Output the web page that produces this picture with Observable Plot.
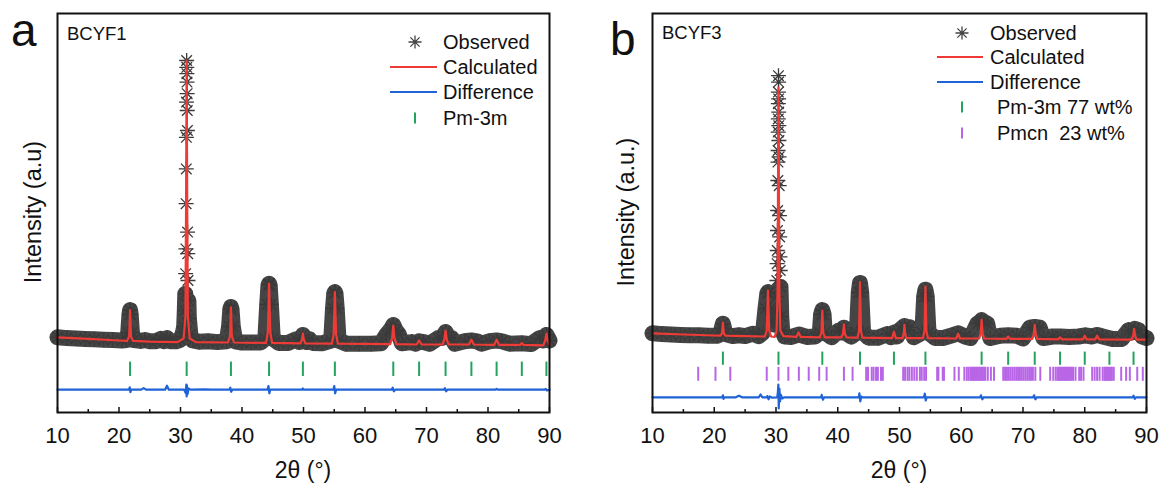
<!DOCTYPE html>
<html><head><meta charset="utf-8">
<script src="https://cdn.jsdelivr.net/npm/d3@7"></script>
<script src="https://cdn.jsdelivr.net/npm/@observablehq/plot@0.6"></script>
<style>
html,body{margin:0;padding:0;background:#fff;}
#wrap{display:flex;width:1169px;height:491px;overflow:hidden;}
</style></head><body><div id="wrap"></div>
<script>
// ---------------- DATA (2θ in degrees, intensity in a.u.) ----------------
const xTicksMajor = [10, 20, 30, 40, 50, 60, 70, 80, 90];
const xTicksMinor = [15, 25, 35, 45, 55, 65, 75, 85];

// Panel a : BCYF1
const obsA = [
  [10,188],[11.5,186],[13,185],[14.5,184],[16,183],[17.5,182],[19,181],[20.5,180],
  [21.2,181],[21.5,200],[21.7,245],[21.8,256],[21.9,245],[22.1,200],[22.4,181],
  [23.5,179],[24.2,181],[25,178],[26,178],[26.8,184],[27.3,178],[27.8,186],[28.3,178],[29.3,178],
  [30.0,182],[30.4,200],
  [30.6,215],[30.7,255],[30.78,297],[30.84,347],[30.88,409],[30.91,522],[30.94,609],[30.96,688],[30.98,776],[31.0,880],
  [31.02,863],[31.04,847],[31.06,826],[31.08,797],[31.1,755],[31.12,705],[31.15,451],[31.18,397],[31.22,330],[31.28,280],[31.36,235],
  [31.6,195],[32,180],[33,177],[34.5,178],[36,176],
  [37.5,178],[37.9,215],[38.1,258],[38.2,264],[38.3,258],[38.5,215],[38.9,178],
  [40,175],[41.5,175],[43,175],[43.8,185],[44.1,270],[44.3,318],[44.4,322],[44.5,318],[44.7,270],[45.0,185],
  [46,174],[47.5,174],[48.8,183],[49.3,176],[49.9,194],[50.5,176],[50.9,184],[51.5,174],[53,173],
  [54.5,180],[54.8,260],[55.0,298],[55.1,301],[55.2,298],[55.4,260],[55.7,180],
  [57,172],[59,172],[61,172],[62.6,173],[63.5,195],[64.2,208],[64.6,219],[65.0,205],[65.5,195],[66,173],
  [67.6,176],[68.2,172],[68.8,178],[69.5,176],[70.5,172],
  [71.9,186],[72.5,186],[73.1,201],[73.6,188],[74.1,186],[74.6,172],
  [76.2,178],[77.3,180],[78.2,178],[79,172],[80.2,178],[81.4,180],[82.3,178],[83.5,172],[85.5,173],[87,171],
  [88.4,186],[88.9,180],[89.5,194],[90,180]
];
const calcA = [
  [10,188],[15,184],[20,180],[21.3,179],[21.65,190],[21.8,256],[21.95,190],[22.3,179],
  [25,177],[29.5,176],[30.5,185],[30.8,240],[30.9,500],[31.0,880],[31.1,500],[31.2,240],[31.5,185],[32.5,176],
  [37.7,175],[38.05,190],[38.2,263],[38.35,190],[38.7,175],
  [43.9,174],[44.2,200],[44.4,322],[44.6,200],[44.9,174],
  [49.5,173],[49.75,182],[49.9,197],[50.05,182],[50.3,173],
  [54.6,172],[54.9,195],[55.1,301],[55.3,195],[55.6,172],
  [64.1,171],[64.4,185],[64.6,217],[64.8,185],[65.1,171],
  [68.4,170],[68.8,180],[69.2,170],
  [72.6,170],[72.9,182],[73.1,205],[73.3,182],[73.6,170],
  [76.9,170],[77.3,182],[77.7,170],
  [81.0,169],[81.4,182],[81.8,169],
  [85.2,169],[85.5,174],[85.8,169],
  [89.0,168],[89.3,180],[89.5,197],[89.7,180],[90,170]
];
const diffA = [
  [10,57],[21.6,57],[21.75,63],[21.85,51],[22.0,57],[23.6,57],[24.0,61],[24.4,57],
  [27.5,57],[27.8,67],[28.1,57],[30.6,57],[30.85,49],[30.95,70],[31.0,40],[31.05,68],[31.15,46],[31.3,60],[31.6,57],
  [34,58],[35,57],[37.95,57],[38.1,62],[38.25,52],[38.4,57],[44.15,57],[44.3,66],[44.45,48],[44.6,57],
  [49.75,57],[49.9,60],[50.0,57],[54.85,57],[55.0,66],[55.15,48],[55.3,57],[64.35,57],[64.5,62],[64.7,53],[64.9,57],
  [72.85,57],[73.0,61],[73.2,53],[73.4,57],[81.25,57],[81.4,59],[81.6,57],[89.25,57],[89.4,59],[89.6,55],[90,57]
];
const pm3mA = [21.8, 31.0, 38.2, 44.4, 49.9, 55.1, 64.6, 68.8, 73.1, 77.3, 81.4, 85.5, 89.5];
const pm3mRowA = [90, 126];

// Panel b : BCYF3
const obsB = [
  [10,198],[11.5,196],[13,195],[14.5,194],[16,193],[17.5,193],[19,192],[20.5,192],
  [21.0,196],[21.2,210],[21.4,222],[21.6,210],[21.8,196],
  [23,191],[24,193],[25,191],[26.3,197],[27.2,191],[27.9,200],[28.3,260],[28.6,298],[28.7,301],[28.8,298],[29.1,260],
  [29.4,230],[29.7,220],[29.95,250],
  [30.1,289],[30.14,330],[30.18,372],[30.21,405],[30.24,455],[30.27,505],[30.3,580],[30.32,626],[30.34,655],[30.36,701],[30.37,734],[30.38,772],[30.39,801],[30.4,842],
  [30.42,826],[30.43,784],[30.44,751],[30.45,717],[30.47,680],[30.49,639],[30.52,567],[30.56,492],[30.6,439],[30.64,389],[30.68,355],[30.73,314],
  [30.85,240],[31.0,205],[31.4,190],[32.5,189],[33.7,195],[35,189],[36.3,190],
  [37.1,200],[37.3,245],[37.5,256],[37.7,245],[37.9,200],
  [39,188],[40.2,205],[40.6,200],[41.0,212],[41.4,198],[42.2,190],
  [43.1,200],[43.4,300],[43.6,324],[43.8,300],[44.1,200],
  [45,187],[46.5,187],[48.0,196],[48.6,188],[49.1,200],[49.6,190],[50.2,208],[50.8,216],[51.3,205],[51.7,213],[52.3,188],
  [53.7,200],[54.0,290],[54.2,307],[54.4,290],[54.7,200],
  [55.8,186],[57,186],[58.5,193],[59.5,198],[60.6,190],[61.5,186],
  [62.6,222],[63.0,226],[63.3,231],[63.7,226],[64.2,222],[64.7,186],
  [66.3,192],[67.6,193],[69,192],[70,185],
  [71.1,212],[71.9,214],[72.7,212],[73.3,186],
  [74.8,190],[76.1,190],[77.5,189],[79,190],[80.1,193],[81.2,190],[82,194],[82.9,190],[84.5,184],[86,184],
  [87.1,206],[87.6,200],[88.1,209],[88.7,206],[89.3,190],[90,186]
];
const calcB = [
  [10,198],[15,195],[20,192.5],[21.0,192],[21.25,198],[21.4,225],[21.55,198],[21.8,192],
  [25,191],[28.2,190],[28.5,205],[28.7,305],[28.9,205],[29.2,190],[29.8,189],[30.1,205],[30.25,300],[30.4,812],[30.55,300],[30.7,205],[31.2,191],
  [33.3,189],[33.65,200],[34.0,189],
  [37.1,188],[37.35,200],[37.5,255],[37.65,200],[37.9,188],
  [40.6,188],[40.85,197],[41.0,220],[41.15,197],[41.4,188],
  [43.2,187],[43.45,205],[43.6,326],[43.75,205],[44.0,187],
  [48.8,186],[49.1,202],[49.4,186],
  [50.5,186],[50.7,198],[50.8,219],[50.9,198],[51.1,186],
  [53.8,186],[54.05,205],[54.2,315],[54.35,205],[54.6,186],
  [59.2,185],[59.5,197],[59.8,185],
  [62.9,185],[63.15,198],[63.3,232],[63.45,198],[63.7,185],
  [67.3,184],[67.6,190],[67.9,184],
  [71.5,184],[71.75,196],[71.9,219],[72.05,196],[72.3,184],
  [75.7,183],[76.0,188],[76.3,183],
  [79.7,183],[80.0,192],[80.3,183],
  [81.7,183],[82.0,192],[82.3,183],
  [87.6,182],[87.85,192],[88.0,209],[88.15,192],[88.4,182],
  [90,182]
];
const diffB = [
  [10,38],[21.3,38],[21.4,43],[21.5,34],[21.6,38],[23.5,38],[24,42],[24.5,38],[27.2,38],[27.5,45],[27.8,38],
  [28.5,38],[28.6,41],[28.8,33],[29.0,40],[29.4,37],[30.2,38],[30.3,50],[30.38,70],[30.45,10],[30.55,60],[30.65,28],[30.8,44],[31.0,35],[31.3,38],
  [37.3,38],[37.4,44],[37.6,32],[37.8,38],[43.4,38],[43.5,48],[43.65,28],[43.8,40],[44.0,38],
  [53.95,38],[54.1,47],[54.25,30],[54.4,38],[63.05,38],[63.2,43],[63.4,33],[63.6,38],[71.65,38],[71.8,43],[72.0,33],[72.2,38],
  [87.75,38],[87.9,42],[88.1,34],[88.3,38],[90,38]
];
const pm3mB = [21.4, 30.4, 37.5, 43.6, 49.1, 54.2, 63.3, 67.6, 71.9, 76.0, 80.0, 84.0, 87.9];
const pm3mRowB = [118, 151];
const pmcnB = [17.4, 20.2, 22.6, 28.5, 30.4, 32.0, 33.7, 35.3, 37.0, 38.2, 41.0, 42.4,
  44.6, 44.9, 45.5, 45.8, 46.2, 46.5, 47.0, 47.3,
  50.6, 50.9, 51.3, 51.6, 52.0, 52.4, 52.8, 53.3, 53.6, 54.0, 54.3,
  56.1, 56.3, 57.0, 57.2, 58.9, 59.6,
  60.5, 60.9, 61.2, 61.5, 61.7, 61.9, 62.1, 62.3, 62.5, 62.7, 62.9, 63.1, 63.3, 63.5, 63.7, 63.9, 64.3, 64.8, 65.3,
  66.8, 67.1, 67.4, 67.7, 68.0, 68.3, 68.6, 68.9, 69.2, 69.5, 69.8, 70.1, 70.4, 70.7, 71.0, 71.3, 71.6, 72.0, 72.8,
  74.4, 74.9, 75.3, 75.6, 75.8, 76.0, 76.2, 76.4, 76.6, 76.8, 77.0, 77.2, 77.4, 77.6, 77.8, 78.1, 78.5, 79.1, 79.4, 79.8,
  81.2, 81.6, 82.0, 82.4, 82.9, 83.2, 83.4, 83.6, 83.8, 84.0, 84.2, 84.4, 84.7,
  85.9, 86.7, 87.3, 88.5, 89.4];
const pmcnRowB = [78, 113];

// ---------------- STYLE ----------------
const FONT = '"Liberation Sans", Arial, Helvetica, sans-serif';
const C_OBS = "#454545", C_CALC = "#ef3b36", C_DIFF = "#1f63d6", C_PM3M = "#22a35e", C_PMCN = "#b866e6";

const star8 = {
  draw(ctx, size) {
    const r = Math.sqrt(size / Math.PI), d = r * Math.SQRT1_2;
    ctx.moveTo(0, -r); ctx.lineTo(0, r);
    ctx.moveTo(-r, 0); ctx.lineTo(r, 0);
    ctx.moveTo(-d, -d); ctx.lineTo(d, d);
    ctx.moveTo(-d, d); ctx.lineTo(d, -d);
  }
};

function makePanel(cfg) {
  const px = d => d[0], py = d => d[1];
  const marks = [
    Plot.line(cfg.obs, {x: px, y: d => d[1] > cfg.bandCut ? NaN : d[1], stroke: C_OBS, strokeWidth: 16}),
    Plot.dot(cfg.obs, {x: px, y: py, symbol: star8, r: 7.5, stroke: "#3a3a3a", strokeWidth: 1.3, fill: "none"}),
    Plot.line(cfg.calc, {x: px, y: py, stroke: C_CALC, strokeWidth: 2.2}),
    Plot.line(cfg.diff, {x: px, y: py, stroke: C_DIFF, strokeWidth: 2.2}),
    ...cfg.phases.map(p => Plot.ruleX(p.pos, {x: d => d, y1: p.row[0], y2: p.row[1], stroke: p.color, strokeWidth: 2})),
    Plot.tickX(xTicksMajor, {x: d => d, insetTop: 394, stroke: "#111", strokeWidth: 1.5}),
    Plot.tickX(xTicksMinor, {x: d => d, insetTop: 396, stroke: "#111", strokeWidth: 1.5}),
    Plot.frame({stroke: "#111", strokeWidth: 2}),
    Plot.axisX(xTicksMajor, {tickSize: 0, tickPadding: 15, fontSize: 22, label: null, fill: "#111"})
  ];
  const svg = Plot.plot({
    width: cfg.width, height: 491,
    marginLeft: cfg.marginLeft, marginRight: cfg.marginRight, marginTop: 13, marginBottom: 79,
    x: {domain: [10, 90]},
    y: {domain: [0, 997.5], axis: null},
    style: {fontFamily: FONT, color: "#111", background: "white", overflow: "visible"},
    marks
  });
  const s = d3.select(svg);
  const txt = (x, y, t, size, extra = {}) => {
    const e = s.append("text").attr("x", x).attr("y", y).attr("font-family", FONT)
      .attr("font-size", size).attr("fill", "#111").attr("text-anchor", "start")
      .style("white-space", "pre").text(t);
    for (const k in extra) e.attr(k, extra[k]);
    return e;
  };
  // panel letter and sample
  txt(cfg.letter.x, cfg.letter.y, cfg.letter.t, 46);
  txt(cfg.sample.x, cfg.sample.y, cfg.sample.t, 18.5);
  // axis titles
  txt(cfg.xlab.x, 478, "2θ (°)", 23, {"text-anchor": "middle"});
  txt(0, 0, cfg.ylab.t, 23.5, {"text-anchor": "middle", "dominant-baseline": "central",
    transform: `translate(${cfg.ylab.x},212) rotate(-90)`});
  // legend
  const L = cfg.legend;
  const sym = d3.symbol(star8, Math.PI * 6.5 * 6.5)();
  s.append("path").attr("d", sym).attr("transform", `translate(${L.sx},${L.rows[0]})`)
    .attr("fill", "none").attr("stroke", "#444").attr("stroke-width", 1.3);
  txt(L.tx, L.rows[0] + 7, "Observed", 20);
  s.append("line").attr("x1", L.lx1).attr("x2", L.lx2).attr("y1", L.rows[1]).attr("y2", L.rows[1]).attr("stroke", C_CALC).attr("stroke-width", 2);
  txt(L.tx, L.rows[1] + 7, "Calculated", 20);
  s.append("line").attr("x1", L.lx1).attr("x2", L.lx2).attr("y1", L.rows[2]).attr("y2", L.rows[2]).attr("stroke", C_DIFF).attr("stroke-width", 2);
  txt(L.tx, L.rows[2] + 7, "Difference", 20);
  L.phases.forEach((p, i) => {
    const y = L.rows[3 + i];
    s.append("line").attr("x1", L.sx).attr("x2", L.sx).attr("y1", y - 5.5).attr("y2", y + 5.5).attr("stroke", p.color).attr("stroke-width", 2);
    txt(L.ptx, y + 7, p.label, 20);
  });
  return svg;
}

const wrap = document.getElementById("wrap");
wrap.appendChild(makePanel({
  width: 600, marginLeft: 57, marginRight: 51,
  obs: obsA, calc: calcA, diff: diffA, bandCut: 325,
  phases: [{pos: pm3mA, row: pm3mRowA, color: C_PM3M}],
  letter: {x: 11, y: 46, t: "a"}, sample: {x: 67, y: 40, t: "BCYF1"},
  xlab: {x: 303}, ylab: {x: 33, t: "Intensity (a.u)"},
  legend: {sx: 415, tx: 443, ptx: 443, lx1: 390, lx2: 437, rows: [42, 67, 92, 118],
    phases: [{color: C_PM3M, label: "Pm-3m"}]}
}));
wrap.appendChild(makePanel({
  width: 569, marginLeft: 52, marginRight: 23,
  obs: obsB, calc: calcB, diff: diffB, bandCut: 325,
  phases: [{pos: pm3mB, row: pm3mRowB, color: C_PM3M}, {pos: pmcnB, row: pmcnRowB, color: C_PMCN}],
  letter: {x: 10, y: 55, t: "b"}, sample: {x: 62, y: 39, t: "BCYF3"},
  xlab: {x: 299}, ylab: {x: 26, t: "Intensity (a.u.)"},
  legend: {sx: 362, tx: 390, ptx: 397, lx1: 337, lx2: 383, rows: [33, 57, 82, 107, 133],
    phases: [{color: C_PM3M, label: "Pm-3m 77 wt%"}, {color: C_PMCN, label: "Pmcn  23 wt%"}]}
}));
</script></body></html>
